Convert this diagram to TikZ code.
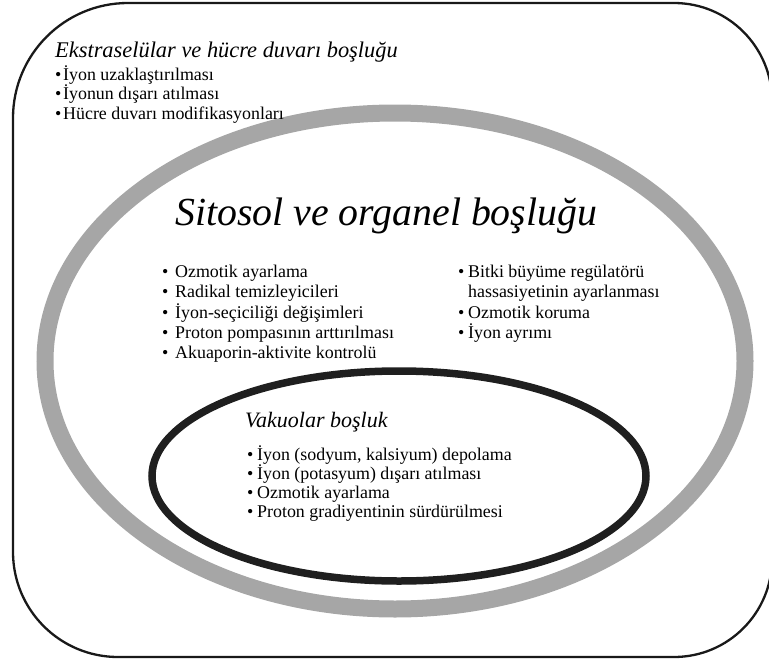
\documentclass[tikz,border=0pt]{standalone}
\usepackage{fontspec}
\setmainfont{Liberation Serif}
\newcommand\bl[2]{\makebox[#1][l]{•}#2}
\tikzset{
  item/.style={anchor=base west, inner sep=0pt, font=\fontsize{17.9}{20}\selectfont},
  headsm/.style={anchor=base west, inner sep=0pt, font=\fontsize{22.4}{26}\selectfont\itshape},
  headbig/.style={anchor=base west, inner sep=0pt, font=\fontsize{39.8}{44}\selectfont\itshape},
  outerwall/.style={line width=2.3pt, black!90},
  cytoring/.style={line width=17pt, draw=black!35},
  vacring/.style={line width=7.5pt, draw=black!88}
}
\begin{document}
\begin{tikzpicture}[x=1pt, y=-1pt]
\useasboundingbox (0,0) rectangle (769,664);
% outer cell wall
\draw[outerwall] (13,118) arc[start angle=180, end angle=270, radius=115]
  -- (674,3) arc[start angle=270, end angle=360, radius=98]
  -- (772,559) arc[start angle=0, end angle=90, radius=98]
  -- (118,657) arc[start angle=90, end angle=180, radius=105] -- cycle;
% cytosol ring
\draw[cytoring] (395,361) ellipse[x radius=350, y radius=248];
% vacuole ring
\draw[vacring] (399,476) ellipse[x radius=247, y radius=105];

% extracellular
\node[headsm] (eh) at (55,57) {Ekstraselülar ve hücre duvarı boşluğu};
\node[item] (e1) at (55,80) {\bl{8pt}{İyon uzaklaştırılması}};
\node[item] (e2) at (55,99.5) {\bl{8pt}{İyonun dışarı atılması}};
\node[item] (e3) at (55,119) {\bl{8pt}{Hücre duvarı modifikasyonları}};

% cytosol
\node[headbig] (ch) at (175,225) {Sitosol ve organel boşluğu};
\node[item] (c1) at (162,277) {\bl{13pt}{Ozmotik ayarlama}};
\node[item] (c2) at (162,297.5) {\bl{13pt}{Radikal temizleyicileri}};
\node[item] (c3) at (162,318) {\bl{13pt}{İyon-seçiciliği değişimleri}};
\node[item] (c4) at (162,338) {\bl{13pt}{Proton pompasının arttırılması}};
\node[item] (c5) at (162,358) {\bl{13pt}{Akuaporin-aktivite kontrolü}};

\node[item] (r1) at (458,277) {\bl{10pt}{Bitki büyüme regülatörü}};
\node[item] (r2) at (468,297.5) {hassasiyetinin ayarlanması};
\node[item] (r3) at (458,318) {\bl{10pt}{Ozmotik koruma}};
\node[item] (r4) at (458,338) {\bl{10pt}{İyon ayrımı}};

% vacuole
\node[headsm, font=\fontsize{22}{26}\selectfont\itshape] (vh) at (245,427) {Vakuolar boşluk};
\node[item] (v1) at (247,460) {\bl{10pt}{İyon (sodyum, kalsiyum) depolama}};
\node[item] (v2) at (247,479.5) {\bl{10pt}{İyon (potasyum) dışarı atılması}};
\node[item] (v3) at (247,498) {\bl{10pt}{Ozmotik ayarlama}};
\node[item] (v4) at (247,517) {\bl{10pt}{Proton gradiyentinin sürdürülmesi}};
\end{tikzpicture}
\end{document}
